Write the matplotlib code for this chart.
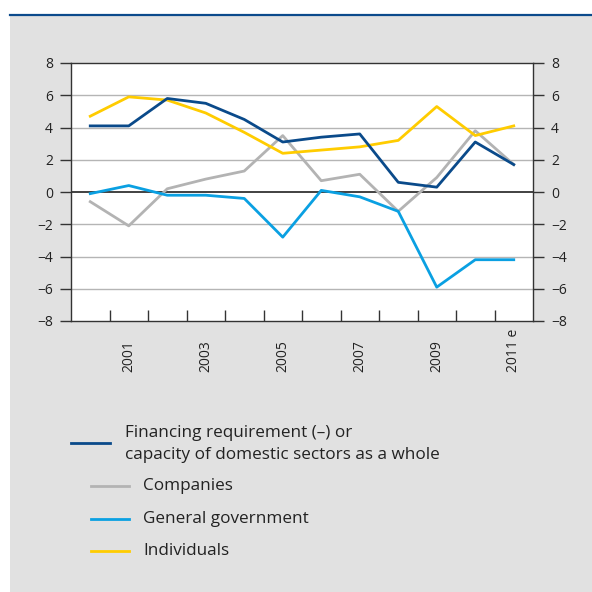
import matplotlib
matplotlib.use("Agg")
import matplotlib.pyplot as plt
from matplotlib.lines import Line2D
from matplotlib.patches import Rectangle

plt.rcParams['font.family'] = ['Open Sans', 'DejaVu Sans']

years = ["2000", "2001", "2002", "2003", "2004", "2005", "2006",
         "2007", "2008", "2009", "2010", "2011 e"]
financing = [4.1, 4.1, 5.8, 5.5, 4.5, 3.1, 3.4, 3.6, 0.6, 0.3, 3.1, 1.7]
companies = [-0.6, -2.1, 0.2, 0.8, 1.3, 3.5, 0.7, 1.1, -1.2, 0.9, 3.8, 1.7]
government = [-0.1, 0.4, -0.2, -0.2, -0.4, -2.8, 0.1, -0.3, -1.2, -5.9, -4.2, -4.2]
individuals = [4.7, 5.9, 5.7, 4.9, 3.7, 2.4, 2.6, 2.8, 3.2, 5.3, 3.5, 4.1]
y_ticks = [-8, -6, -4, -2, 0, 2, 4, 6, 8]
y_labels = ["\u22128", "\u22126", "\u22124", "\u22122", "0", "2", "4", "6", "8"]

C_DARK = "#0a4a8a"
C_GREY = "#b3b3b3"
C_LIGHT = "#0aa0e2"
C_YELLOW = "#ffcc00"
C_PANEL = "#e1e1e1"
C_TEXT = "#222222"

W, H = 592, 592
fig = plt.figure(figsize=(W / 100, H / 100), dpi=100)
fig.patch.set_facecolor("white")

def fx(px):
    return px / W

def fy(py):
    return 1 - py / H

# grey panel and top rule
fig.add_artist(Rectangle((fx(10), 0), 1 - fx(10), fy(16), transform=fig.transFigure,
                         facecolor=C_PANEL, edgecolor="none", zorder=0))
fig.add_artist(Line2D([fx(10), 1], [fy(15), fy(15)], transform=fig.transFigure,
                      color="#0b4a8c", lw=1.6, zorder=1))

ax = fig.add_axes([fx(71), fy(321), fx(533) - fx(71), fy(63) - fy(321)])
ax.set_facecolor("white")
x = list(range(len(years)))
ax.set_xlim(-0.5, len(years) - 0.5)
ax.set_ylim(-8, 8)

for v in y_ticks:
    if v == 0:
        ax.axhline(0, color="#333333", lw=1.3, zorder=2)
    elif abs(v) != 8:
        ax.axhline(v, color="#b5b5b5", lw=1.0, zorder=1)

ax.plot(x, companies, color=C_GREY, lw=2.0, zorder=3)
ax.plot(x, government, color=C_LIGHT, lw=2.0, zorder=4)
ax.plot(x, individuals, color=C_YELLOW, lw=2.0, zorder=5)
ax.plot(x, financing, color=C_DARK, lw=2.0, zorder=6)

for s in ax.spines.values():
    s.set_color("#333333")
    s.set_linewidth(1.0)

ax.set_yticks(y_ticks)
ax.set_yticklabels(y_labels)
ax.tick_params(axis="y", which="both", direction="out", length=8, width=1.0,
               color="#333333", labelsize=10, labelcolor=C_TEXT, pad=5,
               left=True, right=True, labelleft=True, labelright=True)

# category boundaries as inward ticks on the bottom axis
ax.set_xticks([i + 0.5 for i in range(len(years) - 1)])
ax.set_xticklabels([])
ax.tick_params(axis="x", direction="in", length=8, width=1.0, color="#333333")

for i, lab in enumerate(years):
    if i % 2 == 1:
        ax.text(i, -0.198, lab, transform=ax.get_xaxis_transform(), rotation=90,
                ha="center", va="bottom", fontsize=10, color=C_TEXT)

# legend
LEG_FS = 12.3

def legend_line(x0, x1, y, color):
    fig.add_artist(Line2D([fx(x0), fx(x1)], [fy(y), fy(y)], transform=fig.transFigure,
                          color=color, lw=2.0))

legend_line(71, 110, 443, C_DARK)
fig.text(fx(125), fy(433), "Financing requirement (\u2013) or", fontsize=LEG_FS,
         va="center", ha="left", color=C_TEXT)
fig.text(fx(125), fy(455), "capacity of domestic sectors as a whole", fontsize=LEG_FS,
         va="center", ha="left", color=C_TEXT)
legend_line(91, 129, 486, C_GREY)
fig.text(fx(143), fy(486), "Companies", fontsize=LEG_FS, va="center", ha="left", color=C_TEXT)
legend_line(91, 129, 519, C_LIGHT)
fig.text(fx(143), fy(519), "General government", fontsize=LEG_FS, va="center", ha="left", color=C_TEXT)
legend_line(91, 129, 551, C_YELLOW)
fig.text(fx(143), fy(551), "Individuals", fontsize=LEG_FS, va="center", ha="left", color=C_TEXT)

fig.savefig("out.png", dpi=100, facecolor=fig.get_facecolor())
